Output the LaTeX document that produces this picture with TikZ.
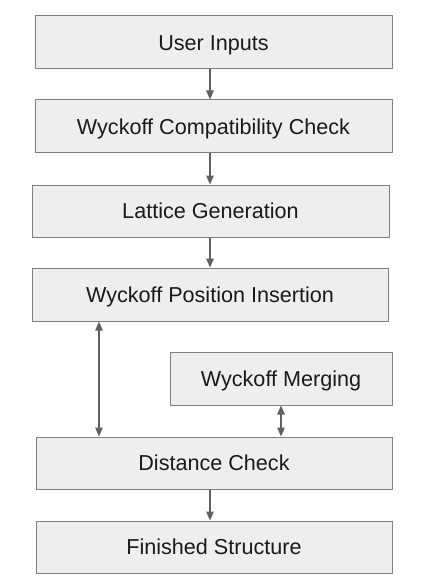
\documentclass[tikz,border=0pt]{standalone}
\usepackage{fontspec}
\setmainfont{Liberation Sans}
\usetikzlibrary{arrows.meta}
\definecolor{boxfill}{HTML}{EEEEEE}
\definecolor{boxline}{HTML}{7F7F7F}
\definecolor{arrowcol}{HTML}{606060}
\definecolor{textcol}{HTML}{1A1A1A}
\begin{document}
\begin{tikzpicture}[x=1pt,y=-1pt,
  stepbox/.style={draw=boxline, fill=boxfill, line width=1pt, rectangle, inner sep=0pt,
    text=textcol, font=\fontsize{21.6}{24}\selectfont, text height=15.5pt, text depth=0pt},
  flow/.style={draw=arrowcol, line width=1.2pt, -{Triangle[length=9pt,width=7.5pt]}},
  flow2/.style={draw=arrowcol, line width=1.2pt, {Triangle[length=9pt,width=7.5pt]}-{Triangle[length=9pt,width=7.5pt]}}]
\useasboundingbox (0,0) rectangle (422,588);
\node[stepbox, minimum width=357pt, minimum height=53pt] (ui) at (213.5,42.5) {User Inputs};
\node[stepbox, minimum width=357pt, minimum height=53pt] (wc) at (213.5,126.5) {Wyckoff Compatibility Check};
\node[stepbox, minimum width=357pt, minimum height=52pt] (lg) at (210.5,211) {Lattice Generation};
\node[stepbox, minimum width=356pt, minimum height=53pt] (wp) at (210,294.5) {Wyckoff Position Insertion};
\node[stepbox, minimum width=222pt, minimum height=53pt] (wm) at (281,378.5) {Wyckoff Merging};
\node[stepbox, minimum width=356pt, minimum height=52pt] (dc) at (214,463) {Distance Check};
\node[stepbox, minimum width=356pt, minimum height=52pt] (fs) at (214,547) {Finished Structure};
\draw[flow] (ui.south -| 210,0) -- (wc.north -| 210,0);
\draw[flow] (wc.south -| 210,0) -- (lg.north -| 210,0);
\draw[flow] (lg.south -| 210,0) -- (wp.north -| 210,0);
\draw[flow2] (wp.south -| 99,0) -- (dc.north -| 99,0);
\draw[flow2] (wm.south -| 281,0) -- (dc.north -| 281,0);
\draw[flow] (dc.south -| 210,0) -- (fs.north -| 210,0);
\end{tikzpicture}
\end{document}
